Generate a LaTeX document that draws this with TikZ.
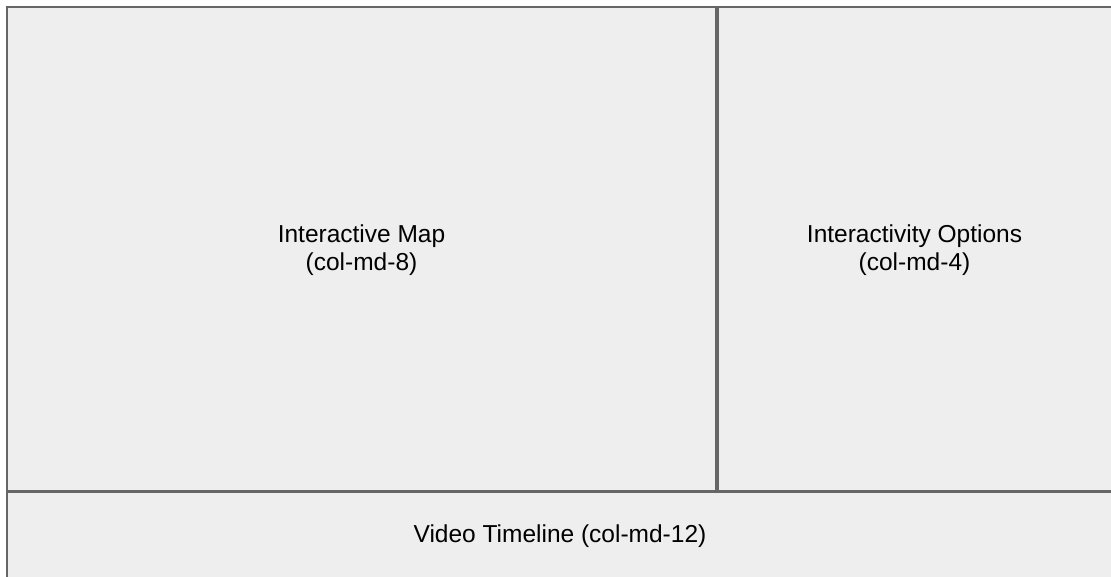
\documentclass[tikz,border=0pt]{standalone}
\usepackage{fontspec}
\setmainfont{Liberation Sans}
\definecolor{panelfill}{HTML}{EEEEEE}
\definecolor{panelline}{HTML}{666666}
\tikzset{
  panel/.style={draw=panelline, fill=panelfill, line width=1.5pt},
  paneltext/.style={align=center, text=black, font=\fontsize{24.5pt}{28pt}\selectfont, inner sep=0pt}
}
\begin{document}
\begin{tikzpicture}[x=1pt,y=-1pt]
\useasboundingbox (0,0) rectangle (1111,577);
\clip (0,0) rectangle (1111,577);
\fill[white] (0,0) rectangle (1111,577);
\path[panel] (7,7) rectangle (716,491);
\path[panel] (718,7) rectangle (1125,491);
\path[panel] (7,492.5) rectangle (1125,600);
\node[paneltext] (map) at (361.5,250) {Interactive Map\\(col-md-8)};
\node[paneltext] (opts) at (914.5,250) {Interactivity Options\\(col-md-4)};
\node[paneltext] (timeline) at (560,536) {Video Timeline (col-md-12)};
\end{tikzpicture}
\end{document}
